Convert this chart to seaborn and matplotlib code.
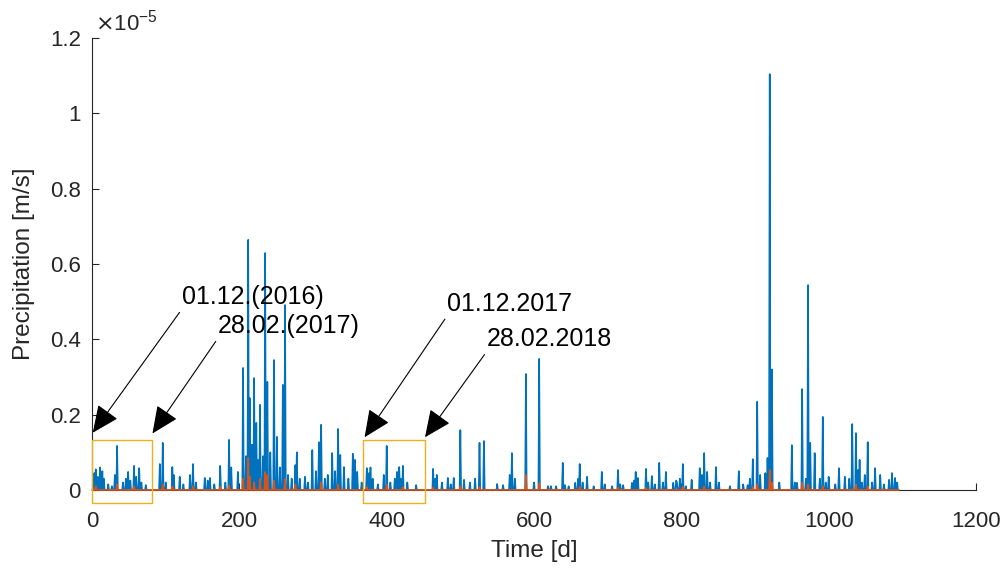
import numpy as np
import pandas as pd
import matplotlib
matplotlib.use("Agg")
import matplotlib.pyplot as plt
from matplotlib.patches import Rectangle
from matplotlib.ticker import FuncFormatter
import seaborn as sns

# Daily precipitation spikes (day index, value in 1e-6 m/s)
rain_days = [3, 5, 8, 11, 14, 16, 22, 27, 31, 34, 42, 46, 49, 52, 57, 60, 64, 67, 73,
             92, 96, 100, 109, 111, 119, 124, 133, 137, 141, 153, 157, 160, 166, 174, 181,
             186, 189, 198, 205, 209, 212, 214, 217, 220, 223, 225, 228, 232, 235, 238,
             242, 247, 251, 255, 259, 262, 266, 271, 276, 278, 282, 289, 293, 299, 304,
             308, 311, 316, 320, 326, 330, 334, 337, 342, 348, 354, 357, 360, 366, 373,
             376, 378, 381, 388, 396, 400, 405, 411, 414, 417, 419, 422, 428, 440, 463,
             466, 468, 475, 483, 487, 491, 500, 505, 513, 520, 526, 532, 550, 558, 567,
             570, 574, 589, 600, 607, 619, 623, 630, 639, 642, 647, 656, 660, 662, 666,
             672, 681, 692, 696, 706, 714, 717, 721, 733, 736, 738, 741, 752, 755, 760,
             764, 770, 775, 779, 789, 793, 794, 798, 802, 806, 814, 825, 828, 831, 835,
             839, 847, 851, 866, 878, 884, 890, 893, 897, 903, 907, 914, 917, 920, 923,
             933, 950, 954, 957, 964, 969, 972, 975, 981, 988, 992, 996, 1000, 1009, 1014,
             1022, 1028, 1032, 1037, 1040, 1042, 1045, 1049, 1053, 1059, 1063, 1070, 1075,
             1082, 1086, 1090, 1093]
rain_vals = [0.45, 0.55, 0.35, 0.60, 0.50, 0.30, 0.15, 0.10, 0.40, 1.17, 0.20, 0.30, 0.48,
             0.25, 0.64, 0.35, 0.58, 0.20, 0.13,
             0.69, 1.25, 0.20, 0.61, 0.40, 0.35, 0.15, 0.40, 0.69, 0.20, 0.32, 0.25, 0.32,
             0.15, 0.64, 0.20,
             1.33, 0.60, 0.48, 3.24, 0.90, 6.64, 2.44, 1.20, 2.97, 1.78, 0.80, 2.26, 0.90,
             6.29, 2.87,
             1.00, 3.45, 1.41, 0.60, 2.79, 4.91, 0.40, 0.30, 0.66, 1.00, 0.30, 0.35, 0.20,
             1.06, 0.50,
             1.27, 1.73, 0.30, 0.40, 0.98, 0.50, 1.62, 0.93, 0.61, 0.30, 0.96, 0.80, 0.48,
             0.20, 0.58,
             0.45, 0.60, 0.30, 0.15, 0.40, 1.17, 0.20, 0.30, 0.48, 0.61, 0.30, 0.64, 0.20,
             0.13, 0.56,
             0.30, 0.40, 0.20, 0.32, 0.15, 0.32, 1.59, 0.27, 0.20, 0.30, 1.25, 1.30, 0.16,
             0.13, 0.40,
             0.98, 0.30, 3.08, 0.20, 3.48, 0.10, 0.10, 0.10, 0.72, 0.13, 0.10, 0.19, 0.30,
             0.69, 0.20,
             0.35, 0.10, 0.48, 0.15, 0.10, 0.53, 0.15, 0.13, 0.19, 0.25, 0.48, 0.32, 0.56,
             0.20, 0.37,
             0.15, 0.72, 0.20, 0.48, 0.19, 0.25, 0.20, 0.30, 0.69, 0.10, 0.27, 0.58, 0.40,
             0.98, 0.48,
             0.20, 0.61, 0.20, 0.10, 0.50, 0.15, 0.13, 0.30, 0.82, 2.34, 0.40, 0.45, 0.85,
             11.04, 3.20,
             0.20, 1.19, 0.20, 0.19, 2.68, 0.30, 5.44, 1.25, 0.98, 0.30, 1.94, 0.20, 0.35,
             0.15, 0.58,
             0.35, 0.30, 1.75, 1.51, 0.53, 0.80, 0.20, 0.40, 1.27, 0.20, 0.58, 0.40, 0.15,
             0.27, 0.45, 0.32, 0.20]

# Second (effective) series, same units
eff_days = [5, 34, 57, 96, 109, 137, 174, 186, 205, 212, 214, 220, 228, 235, 238, 247,
            262, 276, 311, 334, 373, 400, 422, 463, 500, 526, 589, 607, 662, 714, 752,
            802, 831, 897, 903, 920, 923, 964, 972, 992, 1037, 1053]
eff_vals = [0.10, 0.15, 0.10, 0.15, 0.10, 0.10, 0.08, 0.12, 0.30, 0.85, 0.35, 0.20, 0.30,
            0.48, 0.40, 0.25, 0.30, 0.15, 0.20, 0.15, 0.08, 0.15, 0.08, 0.06, 0.10, 0.08,
            0.40, 0.18, 0.08, 0.06, 0.06, 0.08, 0.10, 0.08, 0.15, 0.53, 0.20, 0.19, 0.15,
            0.10, 0.15, 0.10]

n_days = 1096
xticks = [0, 200, 400, 600, 800, 1000, 1200]
yticks = [0, 0.2, 0.4, 0.6, 0.8, 1.0, 1.2]

# Winter periods (start day, end day) and their labels
boxes = [(0, 82), (368, 452)]
notes = [
    ("01.12.(2016)", (1, 1.52), (122, 5.12)),
    ("28.02.(2017)", (82, 1.50), (171, 4.35)),
    ("01.12.2017", (370, 1.40), (482, 4.94)),
    ("28.02.2018", (452, 1.40), (536, 4.0)),
]

days = np.arange(n_days)
rain = np.zeros(n_days)
rain[rain_days] = rain_vals
eff = np.zeros(n_days)
eff[eff_days] = eff_vals
df = pd.DataFrame({"day": days, "rain": rain * 1e-6, "eff": eff * 1e-6})

sns.set_style("ticks")
plt.rcParams["font.family"] = ["Liberation Sans", "DejaVu Sans"]
ink = "#262626"

fig = plt.figure(figsize=(10.07, 5.71), dpi=100)
ax = fig.add_axes([0.0914, 0.1419, 0.8778, 0.7916])

sns.lineplot(data=df, x="day", y="rain", ax=ax, color="#0072BD", lw=1.2,
             estimator=None, zorder=2)
sns.lineplot(data=df, x="day", y="eff", ax=ax, color="#D95319", lw=1.2,
             estimator=None, zorder=3)
ax.lines[-1].set_clip_on(False)

ax.set_xlim(0, 1200)
ax.set_ylim(0, 1.2e-5)
ax.set_xticks(xticks)
ax.set_yticks([v * 1e-5 for v in yticks])
ax.xaxis.set_major_formatter(FuncFormatter(lambda v, p: f"{v:g}"))
ax.yaxis.set_major_formatter(FuncFormatter(lambda v, p: f"{v / 1e-5:g}"))
ax.tick_params(direction="in", length=5, width=0.8, colors=ink, labelsize=16)
ax.tick_params(axis="y", pad=8)
ax.tick_params(axis="x", pad=15)
for side in ("top", "right"):
    ax.spines[side].set_visible(False)
for side in ("left", "bottom"):
    ax.spines[side].set_color(ink)
    ax.spines[side].set_linewidth(0.8)

ax.set_xlabel("Time [d]", fontsize=17.5, color=ink, labelpad=6)
ax.set_ylabel("Precipitation [m/s]", fontsize=17.5, color=ink, labelpad=11)
ax.text(0.003, 1.005, r"$\times$10$^{\mathregular{-5}}$", transform=ax.transAxes,
        fontsize=16, color=ink, ha="left", va="bottom")

for x0, x1 in boxes:
    ax.add_patch(Rectangle((x0, -0.345e-6), x1 - x0, 1.68e-6, fill=False,
                           edgecolor="#EDB120", lw=1.0, clip_on=False, zorder=4))

for label, (tx, ty), (lx, ly) in notes:
    ax.annotate(label, xy=(tx, ty * 1e-6), xytext=(lx, ly * 1e-6),
                textcoords="data", ha="left", va="center", fontsize=18, color="black",
                annotation_clip=False, zorder=5,
                arrowprops=dict(arrowstyle="-|>,head_length=1.0,head_width=0.45",
                                mutation_scale=17, color="black", lw=0.8,
                                shrinkA=0, shrinkB=0, relpos=(0, 0)))

fig.savefig("out.png", dpi=100)
